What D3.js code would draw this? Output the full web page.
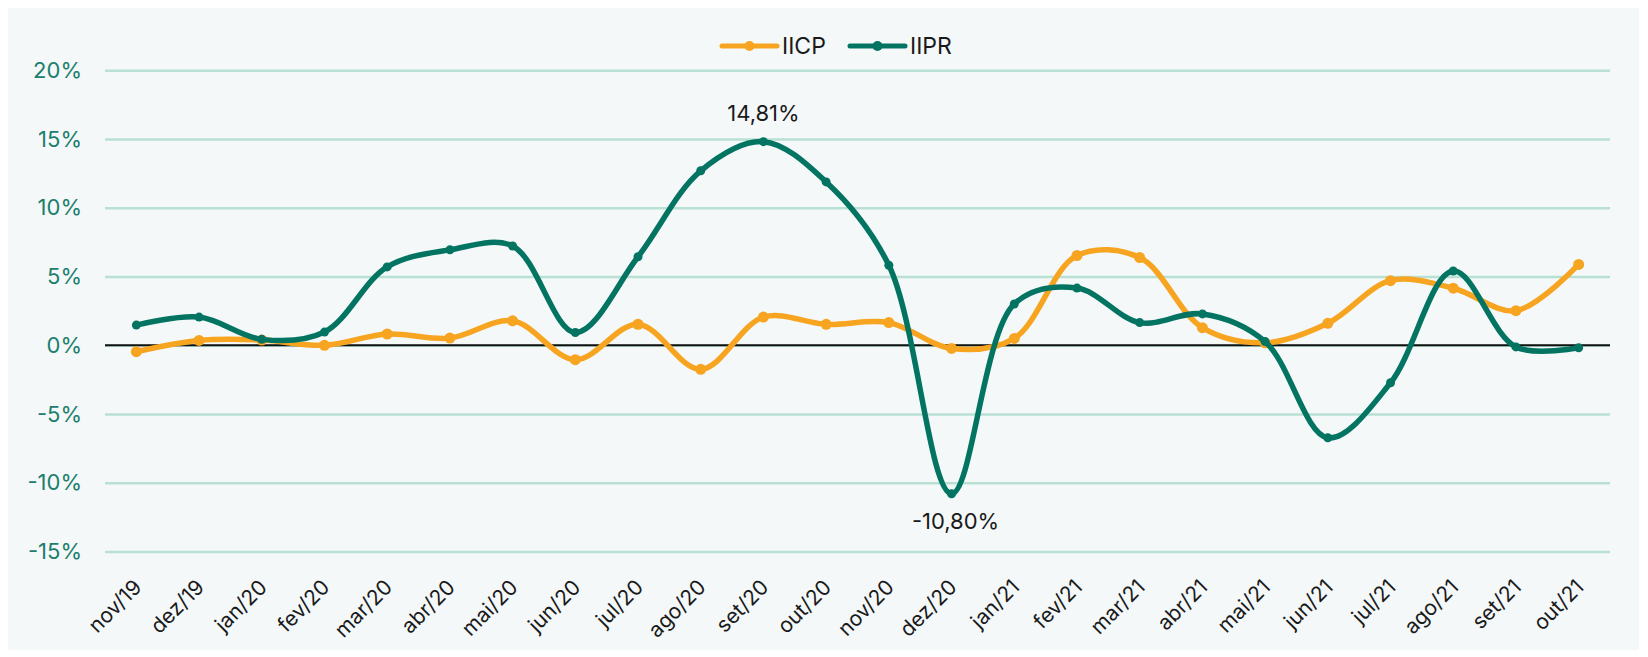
<!DOCTYPE html>
<html>
<head>
<meta charset="utf-8">
<script src="https://cdn.jsdelivr.net/npm/d3@7"></script>
<style>
  body { margin: 0; background: #ffffff; }
  svg { display: block; font-family: Inter, "Noto Sans", sans-serif; }
</style>
</head>
<body>
<div id="chart"></div>
<script>
const months = ['nov/19', 'dez/19', 'jan/20', 'fev/20', 'mar/20', 'abr/20', 'mai/20', 'jun/20',
  'jul/20', 'ago/20', 'set/20', 'out/20', 'nov/20', 'dez/20', 'jan/21', 'fev/21', 'mar/21',
  'abr/21', 'mai/21', 'jun/21', 'jul/21', 'ago/21', 'set/21', 'out/21'];
const iicp = [-0.47, 0.35, 0.38, 0.0, 0.82, 0.52, 1.78, -1.05, 1.53, -1.75, 2.05, 1.52,
  1.65, -0.23, 0.5, 6.53, 6.38, 1.28, 0.18, 1.6, 4.7, 4.15, 2.52, 5.88];
const iipr = [1.47, 2.05, 0.43, 0.96, 5.7, 6.94, 7.22, 0.93, 6.44, 12.69, 14.81, 11.88,
  5.82, -10.80, 3.0, 4.16, 1.65, 2.28, 0.27, -6.73, -2.73, 5.4, -0.12, -0.18];
const yTicks = [-15, -10, -5, 0, 5, 10, 15, 20];

const seriesList = [
  { name: 'IICP', values: iicp, color: '#f7a520', r: 5.5 },
  { name: 'IIPR', values: iipr, color: '#047462', r: 4.5 }
];

const width = 1648, height = 657;
const plotLeft = 105, plotRight = 1610, plotTop = 70.3, plotBottom = 551.5;

const svg = d3.select('#chart').append('svg')
  .attr('width', width)
  .attr('height', height);

// panel background
svg.append('rect')
  .attr('x', 8).attr('y', 8)
  .attr('width', 1631).attr('height', 642)
  .attr('fill', '#f4f8f9');

const x = d3.scalePoint().domain(months).range([plotLeft, plotRight]).padding(0.5);
const y = d3.scaleLinear().domain([-15, 20]).range([plotBottom, plotTop]);

// gridlines + y labels
const yAxis = svg.append('g')
  .attr('transform', 'translate(' + plotLeft + ',0)')
  .call(d3.axisLeft(y).tickValues(yTicks).tickSize(-(plotRight - plotLeft)).tickPadding(23)
    .tickFormat(d => d + '%'));
yAxis.select('.domain').remove();
yAxis.selectAll('.tick line')
  .attr('stroke', '#b9e1d3')
  .attr('stroke-width', 2.5);
yAxis.selectAll('.tick text')
  .attr('fill', '#1c7e6d')
  .attr('font-size', 22)
  .attr('font-family', 'Inter, "Noto Sans", sans-serif');

// zero line
svg.append('line')
  .attr('x1', plotLeft).attr('x2', plotRight)
  .attr('y1', y(0)).attr('y2', y(0))
  .attr('stroke', '#111')
  .attr('stroke-width', 1.8);

// x labels
const xAxis = svg.append('g')
  .attr('transform', 'translate(0,' + plotBottom + ')')
  .call(d3.axisBottom(x).tickSize(0).tickPadding(0));
xAxis.select('.domain').remove();
xAxis.selectAll('.tick text')
  .attr('fill', '#1a1a1a')
  .attr('font-size', 21)
  .attr('font-family', 'Inter, "Noto Sans", sans-serif')
  .attr('text-anchor', 'end')
  .attr('dy', null)
  .attr('y', 0)
  .attr('transform', 'translate(6,37) rotate(-45)');

// lines
const line = d3.line()
  .x((d, i) => x(months[i]))
  .y(d => y(d))
  .curve(d3.curveCatmullRom.alpha(0.5));

seriesList.forEach(s => {
  const g = svg.append('g');
  g.append('path')
    .attr('d', line(s.values))
    .attr('fill', 'none')
    .attr('stroke', s.color)
    .attr('stroke-width', 5.5)
    .attr('stroke-linecap', 'round');
  g.selectAll('circle')
    .data(s.values)
    .enter()
    .append('circle')
    .attr('cx', (d, i) => x(months[i]))
    .attr('cy', d => y(d))
    .attr('r', s.r)
    .attr('fill', s.color);
});

// data labels for max / min of IIPR
const maxI = d3.maxIndex(iipr), minI = d3.minIndex(iipr);
const fmt = v => v.toFixed(2).replace('.', ',') + '%';
svg.append('text')
  .attr('x', x(months[maxI]))
  .attr('y', y(iipr[maxI]) - 21)
  .attr('text-anchor', 'middle')
  .attr('font-size', 22)
  .attr('fill', '#1a1a1a')
  .text(fmt(iipr[maxI]));
svg.append('text')
  .attr('x', x(months[minI]) + 4)
  .attr('y', y(iipr[minI]) + 35)
  .attr('text-anchor', 'middle')
  .attr('font-size', 22)
  .attr('fill', '#1a1a1a')
  .text(fmt(iipr[minI]));

// legend
const legend = svg.append('g').attr('transform', 'translate(722,46)');
let lx = 0;
seriesList.forEach(s => {
  const item = legend.append('g').attr('transform', 'translate(' + lx + ',0)');
  item.append('line')
    .attr('x1', 0).attr('x2', 55)
    .attr('stroke', s.color)
    .attr('stroke-width', 5)
    .attr('stroke-linecap', 'round');
  item.append('circle')
    .attr('cx', 27.5).attr('r', 5)
    .attr('fill', s.color);
  item.append('text')
    .attr('x', 60)
    .attr('y', 8)
    .attr('font-size', 23)
    .attr('fill', '#1a1a1a')
    .text(s.name);
  lx += 128;
});
</script>
</body>
</html>
